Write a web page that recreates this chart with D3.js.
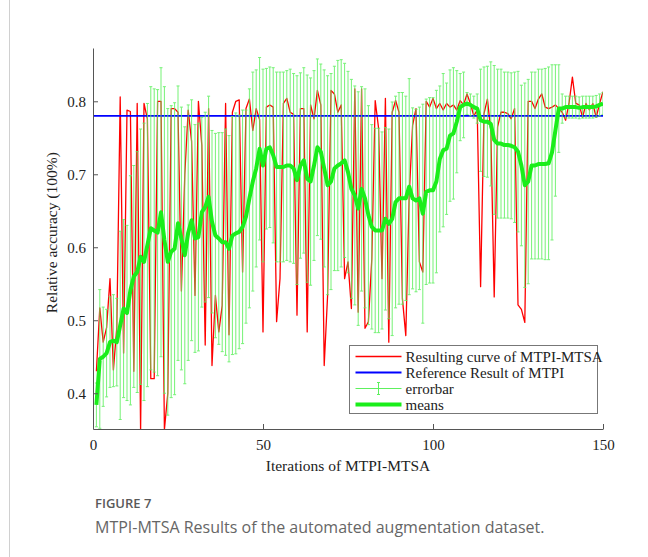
<!DOCTYPE html>
<html>
<head>
<meta charset="utf-8">
<script src="https://cdn.jsdelivr.net/npm/d3@7"></script>
<style>
  body { margin: 0; background: #fff; }
  svg { display: block; }
</style>
</head>
<body>
<div id="chart"></div>
<script>
// iterations 1..150
var iterations = d3.range(1, 151);

// red curve
var resultCurve = [
  0.43, 0.517, 0.47, 0.49, 0.557, 0.432, 0.49, 0.806, 0.455, 0.788,
  0.786, 0.43, 0.797, 0.35, 0.797, 0.776, 0.42, 0.42, 0.80, 0.80,
  0.35, 0.40, 0.79, 0.79, 0.785, 0.54, 0.70, 0.788, 0.745, 0.534,
  0.80, 0.74, 0.466, 0.79, 0.438, 0.534, 0.484, 0.52, 0.797, 0.48,
  0.785, 0.80, 0.802, 0.566, 0.79, 0.803, 0.76, 0.79, 0.775, 0.484,
  0.792, 0.795, 0.792, 0.498, 0.557, 0.797, 0.804, 0.785, 0.782, 0.507,
  0.79, 0.79, 0.484, 0.795, 0.776, 0.815, 0.795, 0.438, 0.534, 0.815,
  0.81, 0.785, 0.795, 0.557, 0.58, 0.516, 0.817, 0.511, 0.817, 0.489,
  0.498, 0.584, 0.801, 0.763, 0.557, 0.804, 0.47, 0.785, 0.801, 0.785,
  0.53, 0.479, 0.67, 0.767, 0.79, 0.58, 0.566, 0.80, 0.792, 0.804,
  0.79, 0.797, 0.788, 0.797, 0.792, 0.795, 0.788, 0.801, 0.795, 0.81,
  0.797, 0.78, 0.788, 0.546, 0.783, 0.803, 0.76, 0.532, 0.765, 0.785,
  0.785, 0.783, 0.776, 0.79, 0.521, 0.515, 0.497, 0.80, 0.80, 0.79,
  0.803, 0.81, 0.792, 0.79, 0.792, 0.795, 0.79, 0.785, 0.774, 0.797,
  0.833, 0.797, 0.795, 0.778, 0.797, 0.788, 0.797, 0.778, 0.797, 0.813
];

// green means
var means = [
  0.384, 0.447, 0.45, 0.455, 0.47, 0.472, 0.47, 0.493, 0.516, 0.51,
  0.541, 0.56, 0.566, 0.587, 0.58, 0.603, 0.626, 0.623, 0.62, 0.648,
  0.61, 0.58, 0.594, 0.598, 0.633, 0.612, 0.589, 0.62, 0.637, 0.612,
  0.614, 0.648, 0.655, 0.669, 0.635, 0.616, 0.612, 0.607, 0.607, 0.598,
  0.616, 0.619, 0.621, 0.628, 0.642, 0.667, 0.69, 0.708, 0.735, 0.712,
  0.735, 0.737, 0.726, 0.71, 0.71, 0.71, 0.712, 0.712, 0.708, 0.692,
  0.712, 0.719, 0.694, 0.69, 0.712, 0.737, 0.731, 0.708, 0.685, 0.69,
  0.708, 0.712, 0.715, 0.719, 0.703, 0.68, 0.671, 0.653, 0.68, 0.667,
  0.644, 0.628, 0.623, 0.623, 0.623, 0.639, 0.632, 0.639, 0.662, 0.667,
  0.667, 0.667, 0.683, 0.667, 0.664, 0.667, 0.646, 0.676, 0.678, 0.678,
  0.69, 0.721, 0.733, 0.735, 0.753, 0.756, 0.772, 0.792, 0.795, 0.797,
  0.795, 0.792, 0.79, 0.774, 0.772, 0.772, 0.769, 0.747, 0.742, 0.742,
  0.74, 0.74, 0.739, 0.737, 0.731, 0.712, 0.685, 0.69, 0.712, 0.712,
  0.714, 0.714, 0.714, 0.715, 0.73, 0.76, 0.79, 0.79, 0.792, 0.792,
  0.792, 0.792, 0.791, 0.792, 0.792, 0.792, 0.792, 0.793, 0.795, 0.797
];

// half length of each error bar
var errHalf = [
  0.03, 0.095, 0.068, 0.06, 0.062, 0.063, 0.06, 0.129, 0.122, 0.12,
  0.157, 0.152, 0.165, 0.175, 0.19, 0.194, 0.194, 0.194, 0.196, 0.198,
  0.21, 0.21, 0.2, 0.2, 0.188, 0.18, 0.176, 0.175, 0.165, 0.156,
  0.156, 0.13, 0.13, 0.138, 0.125, 0.14, 0.145, 0.15, 0.155, 0.155,
  0.163, 0.165, 0.16, 0.16, 0.146, 0.15, 0.15, 0.135, 0.125, 0.132,
  0.11, 0.11, 0.12, 0.13, 0.13, 0.13, 0.13, 0.132, 0.13, 0.143,
  0.127, 0.127, 0.142, 0.142, 0.13, 0.121, 0.12, 0.135, 0.15, 0.148,
  0.14, 0.144, 0.142, 0.133, 0.138, 0.15, 0.15, 0.16, 0.14, 0.15,
  0.15, 0.14, 0.14, 0.14, 0.135, 0.125, 0.13, 0.16, 0.145, 0.145,
  0.145, 0.14, 0.148, 0.124, 0.125, 0.125, 0.15, 0.127, 0.127, 0.127,
  0.125, 0.1, 0.105, 0.09, 0.09, 0.09, 0.07, 0.046, 0.045, 0.015,
  0.015, 0.015, 0.02, 0.07, 0.075, 0.076, 0.085, 0.102, 0.102, 0.102,
  0.1, 0.1, 0.1, 0.103, 0.11, 0.11, 0.14, 0.14, 0.128, 0.128,
  0.13, 0.13, 0.131, 0.132, 0.12, 0.09, 0.06, 0.02, 0.015, 0.015,
  0.015, 0.015, 0.015, 0.015, 0.015, 0.015, 0.015, 0.015, 0.015, 0.015
];

var referenceValue = 0.78;

var xTicks = [0, 50, 100, 150];
var yTicks = [0.4, 0.5, 0.6, 0.7, 0.8];

var legendLabels = ["Resulting curve of MTPI-MTSA", "Reference Result of MTPI", "errorbar", "means"];

var colors = {
  'result': '#ff0000',
  'reference': '#0000ff',
  'errorbar': '#5ef05e',
  'means': '#1aee1a'
};

var W = 648, H = 557;
var margin = { top: 48, right: 45, bottom: 128, left: 93 };
var width = W - margin.left - margin.right;
var height = H - margin.top - margin.bottom;

var svg = d3.select("#chart").append("svg")
  .attr("width", W)
  .attr("height", H);

// page border line on the left
svg.append("line")
  .attr("x1", 9.5).attr("x2", 9.5)
  .attr("y1", 0).attr("y2", H)
  .attr("stroke", "#d0d0d0")
  .attr("stroke-width", 1);

var g = svg.append("g")
  .attr("transform", "translate(" + margin.left + "," + margin.top + ")");

var x = d3.scaleLinear().domain([0, 150]).range([0, width]);
var y = d3.scaleLinear().domain([0.351, 0.873]).range([height, 0]);

g.append("clipPath").attr("id", "plotclip")
  .append("rect")
  .attr("x", 0).attr("y", 0)
  .attr("width", width).attr("height", height);

var plot = g.append("g").attr("clip-path", "url(#plotclip)");

// red curve
var line = d3.line()
  .x(function(d, i) { return x(iterations[i]); })
  .y(function(d) { return y(d); });

plot.append("path")
  .datum(resultCurve)
  .attr("fill", "none")
  .attr("stroke", colors.result)
  .attr("stroke-width", 1.3)
  .attr("stroke-linejoin", "round")
  .attr("d", line);

// reference line
plot.append("line")
  .attr("x1", 0).attr("x2", width)
  .attr("y1", y(referenceValue)).attr("y2", y(referenceValue))
  .attr("stroke", colors.reference)
  .attr("stroke-width", 1.8);

// error bars
var bars = plot.append("g")
  .attr("stroke", colors.errorbar)
  .attr("stroke-width", 1)
  .attr("opacity", 0.85);

bars.selectAll(".eb")
  .data(iterations)
  .enter().append("path")
  .attr("class", "eb")
  .attr("fill", "none")
  .attr("d", function(d, i) {
    var cx = x(d);
    var top = y(means[i] + errHalf[i]);
    var bot = y(means[i] - errHalf[i]);
    var c = 1.5;
    return "M" + cx + "," + top + "V" + bot +
      "M" + (cx - c) + "," + top + "H" + (cx + c) +
      "M" + (cx - c) + "," + bot + "H" + (cx + c);
  });

// means
plot.append("path")
  .datum(means)
  .attr("fill", "none")
  .attr("stroke", colors.means)
  .attr("stroke-width", 4)
  .attr("stroke-linejoin", "round")
  .attr("d", line);

// axes, matlab style ticks pointing inward, no box
var axisColor = "#555";
var xAxis = g.append("g")
  .attr("transform", "translate(0," + height + ")")
  .call(d3.axisBottom(x).tickValues(xTicks).tickSizeInner(-5).tickSizeOuter(0).tickPadding(10));

var yAxis = g.append("g")
  .call(d3.axisLeft(y).tickValues(yTicks).tickSizeInner(-5).tickSizeOuter(0).tickPadding(7)
    .tickFormat(d3.format(".1f")));

[xAxis, yAxis].forEach(function(a) {
  a.select(".domain").attr("stroke", axisColor);
  a.selectAll(".tick line").attr("stroke", axisColor);
  a.selectAll(".tick text")
    .attr("fill", "#222")
    .style("font-family", "'Liberation Serif', 'Times New Roman', serif")
    .style("font-size", "15px");
});

// axis labels
g.append("text")
  .attr("x", width / 2)
  .attr("y", height + 42)
  .attr("text-anchor", "middle")
  .style("font-family", "'Liberation Serif', 'Times New Roman', serif")
  .style("font-size", "15.5px")
  .attr("fill", "#222")
  .text("Iterations of MTPI-MTSA");

g.append("text")
  .attr("transform", "translate(-36," + (y(0.62)) + ") rotate(-90)")
  .attr("text-anchor", "middle")
  .style("font-family", "'Liberation Serif', 'Times New Roman', serif")
  .style("font-size", "15.5px")
  .attr("fill", "#222")
  .text("Relative accuracy (100%)");

// legend
var legend = svg.append("g").attr("transform", "translate(349.5,345.5)");
legend.append("rect")
  .attr("width", 248).attr("height", 68)
  .attr("fill", "#fff")
  .attr("stroke", "#777")
  .attr("stroke-width", 1);

var rowY = [11, 27, 43, 59];
legendLabels.forEach(function(lbl, i) {
  var row = legend.append("g").attr("transform", "translate(0," + rowY[i] + ")");
  var col = [colors.result, colors.reference, colors.errorbar, colors.means][i];
  var sw = [1.3, 1.8, 1, 4][i];
  row.append("line")
    .attr("x1", 6).attr("x2", 52)
    .attr("stroke", col)
    .attr("stroke-width", sw);
  if (i == 2) {
    row.append("path")
      .attr("d", "M29,-6V6M27.5,-6H30.5M27.5,6H30.5")
      .attr("stroke", col)
      .attr("stroke-width", 1);
  }
  row.append("text")
    .attr("x", 56)
    .attr("y", 5)
    .style("font-family", "'Liberation Serif', 'Times New Roman', serif")
    .style("font-size", "15px")
    .attr("fill", "#222")
    .text(lbl);
});

// caption
svg.append("text")
  .attr("x", 95).attr("y", 508)
  .style("font-family", "'Open Sans', sans-serif")
  .style("font-size", "13px")
  .style("font-weight", "600")
  .attr("fill", "#595959")
  .text("FIGURE 7");

svg.append("text")
  .attr("x", 95).attr("y", 533)
  .style("font-family", "'Open Sans', sans-serif")
  .style("font-size", "16px")
  .attr("fill", "#666")
  .text("MTPI-MTSA Results of the automated augmentation dataset.");
</script>
</body>
</html>
